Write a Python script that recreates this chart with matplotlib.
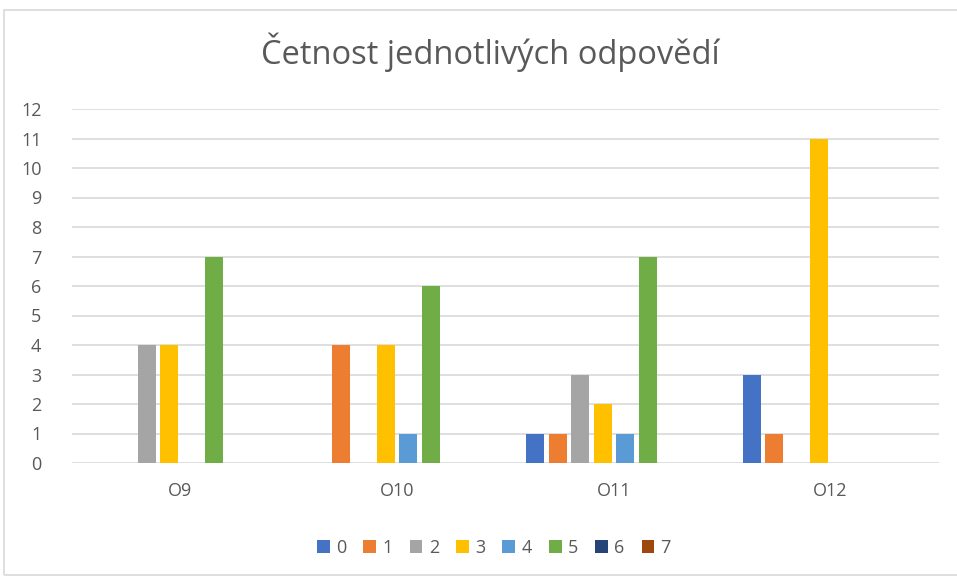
import matplotlib.pyplot as plt
import numpy as np
from matplotlib.patches import Rectangle

categories = ['O9', 'O10', 'O11', 'O12']
series_names = ['0', '1', '2', '3', '4', '5', '6', '7']
values = {
    '0': [0, 0, 1, 3],
    '1': [0, 4, 1, 1],
    '2': [4, 0, 3, 0],
    '3': [4, 4, 2, 11],
    '4': [0, 1, 1, 0],
    '5': [7, 6, 7, 0],
    '6': [0, 0, 0, 0],
    '7': [0, 0, 0, 0],
}
colors = ['#4472C4', '#ED7D31', '#A5A5A5', '#FFC000', '#5B9BD5', '#70AD47', '#264478', '#9E480E']

plt.rcParams['font.family'] = ['Open Sans', 'DejaVu Sans']

fig = plt.figure(figsize=(9.57, 5.78), dpi=100)
ax = fig.add_axes([72 / 957, 1 - 463 / 578, (939 - 72) / 957, (463 - 109) / 578])

# chart border
fig.patches.append(Rectangle((4 / 957, 3 / 578), 1.0, 1 - 13 / 578, transform=fig.transFigure,
                             fill=False, edgecolor='#D9D9D9', linewidth=1.2))

x = np.arange(len(categories))
slot = 0.104
bw = 0.083
for i, name in enumerate(series_names):
    ax.bar(x + (i - 3.5) * slot, values[name], width=bw, color=colors[i], label=name, zorder=3)

ax.set_xlim(-0.5, len(categories) - 0.5)
ax.set_ylim(0, 12)
ax.set_yticks(range(0, 13))
ax.set_xticks(x)
ax.set_xticklabels(categories)
ax.yaxis.grid(True, color='#D9D9D9', linewidth=1.2, zorder=0)
for s in ax.spines.values():
    s.set_visible(False)
ax.tick_params(axis='both', length=0, labelsize=13, labelcolor='#595959')
ax.tick_params(axis='y', pad=22)
ax.tick_params(axis='x', pad=14)

fig.text(490 / 957, 1 - 52 / 578, 'Četnost jednotlivých odpovědí', ha='center', va='center',
         fontsize=23.5, color='#595959')

fig.legend(loc='center', bbox_to_anchor=(494 / 957, 1 - 548 / 578), ncol=8, frameon=False,
           fontsize=13, labelcolor='#595959', handlelength=0.7, handleheight=0.7,
           handletextpad=0.35, columnspacing=0.95)

fig.savefig('out.png', dpi=100)
